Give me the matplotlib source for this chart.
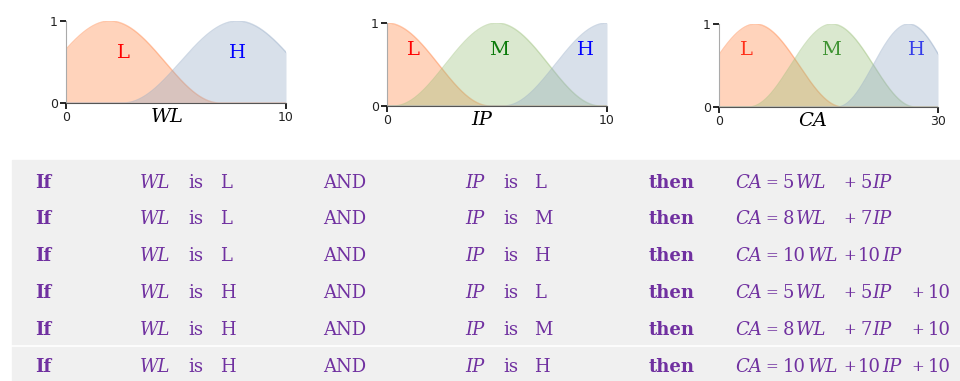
import numpy as np
from matplotlib import pyplot as plt
from matplotlib.patches import Rectangle

# membership functions: (term, peak, half width) for each variable
wl_range = (0, 10)
wl_terms = ["L", "H"]
wl_peaks = [2.0, 7.8]
wl_widths = [5.0, 5.2]

ip_range = (0, 10)
ip_terms = ["L", "M", "H"]
ip_peaks = [0.0, 5.0, 10.0]
ip_widths = [4.7, 4.7, 4.7]

ca_range = (0, 30)
ca_terms = ["L", "M", "H"]
ca_peaks = [5.0, 15.5, 26.0]
ca_widths = [12.0, 11.4, 9.8]

# rule base
rule_wl = ["L", "L", "L", "H", "H", "H"]
rule_ip = ["L", "M", "H", "L", "M", "H"]
coef_wl = [5, 8, 10, 5, 8, 10]
coef_ip = [5, 7, 10, 5, 7, 10]
offset = [0, 0, 0, 10, 10, 10]

FILL = {"L": "#ff8545", "M": "#9bc07a", "H": "#93a9c5"}
TEXT = {"L": "red", "M": "#0a7a0a", "H": "blue"}
PURPLE = "#7030a0"
W, H = 960, 381


def bump(x, c, hw):
    d = np.clip((x - c) / hw, -1, 1)
    return 0.5 * (1 + np.cos(np.pi * d))


def px_axes(fig, left, right, top, bottom):
    return fig.add_axes([left / W, 1 - bottom / H, (right - left) / W,
                         (bottom - top) / H])


def mf_plot(ax, rng, terms, peaks, widths, name, label_pos, label_x,
            text_under=False):
    x = np.linspace(rng[0], rng[1], 500)
    for t, c, hw, (lx, ly) in zip(terms, peaks, widths, label_pos):
        y = bump(x, c, hw)
        ax.fill_between(x, 0, y, color=FILL[t], alpha=0.36, lw=0, zorder=2)
        ax.plot(x, y, color=FILL[t], alpha=0.45, lw=1, zorder=2)
        ax.text(lx, ly, t, color=TEXT[t], fontsize=14, family="DejaVu Serif",
                ha="center", va="center", zorder=1 if text_under else 3)
    ax.set_xlim(*rng)
    ax.set_ylim(0, 1)
    ax.patch.set_visible(False)
    ax.spines[["top", "right"]].set_visible(False)
    ax.spines["left"].set_color("#aaaaaa")
    ax.spines["bottom"].set_color("#555555")
    ax.set_xticks(rng)
    ax.set_yticks([0, 1])
    ax.tick_params(labelsize=9, length=4, width=1.2, pad=2,
                   labelcolor="#222222")
    ax.annotate(name, xy=(label_x, 0), xycoords="axes fraction",
                xytext=(0, -5), textcoords="offset pixels", ha="center",
                va="top", fontsize=14, style="italic", family="DejaVu Serif")


fig = plt.figure(figsize=(W / 100, H / 100), dpi=100)

ax1 = px_axes(fig, 66, 286, 21, 103)
mf_plot(ax1, wl_range, wl_terms, wl_peaks, wl_widths, "WL",
        [(2.6, 0.61), (7.8, 0.61)], 0.46)
ax2 = px_axes(fig, 387, 607, 23, 106)
mf_plot(ax2, ip_range, ip_terms, ip_peaks, ip_widths, "IP",
        [(1.2, 0.67), (5.1, 0.67), (9.0, 0.67)], 0.43)
ax3 = px_axes(fig, 719, 938, 24, 107)
mf_plot(ax3, ca_range, ca_terms, ca_peaks, ca_widths, "CA",
        [(3.7, 0.69), (15.3, 0.69), (27.1, 0.69)], 0.43, text_under=True)

# rule table
fig.patches.append(Rectangle((12 / W, 0), 1 - 12 / W, 1 - 160 / H,
                             transform=fig.transFigure, color="#f0f0f0",
                             zorder=0))
fig.add_artist(plt.Line2D([12 / W, 1], [1 - 346 / H] * 2, color="white",
                          lw=1.2, transform=fig.transFigure))


def put(x, y, s, **kw):
    style = dict(color=PURPLE, fontsize=13, family="DejaVu Serif",
                 va="baseline", ha="left")
    style.update(kw)
    fig.text(x / W, 1 - y / H, s, **style)


def op(x, y, s):
    # slightly smaller operators so the terms keep their spacing
    put(x, y - 1, s, fontsize=11)


baselines = [188, 224, 261, 298, 335, 372]
for i, yb in enumerate(baselines):
    put(35, yb, "If", weight="bold")
    put(140, yb, "WL", style="italic")
    put(188, yb, "is")
    put(220, yb, rule_wl[i])
    put(323, yb, "AND")
    put(465, yb, "IP", style="italic")
    put(503, yb, "is")
    put(534, yb, rule_ip[i])
    put(649, yb, "then", weight="bold")
    put(735, yb, "CA", style="italic")
    op(765, yb, "=")
    put(783, yb, str(coef_wl[i]))
    put(796 if coef_wl[i] < 10 else 808, yb, "WL", style="italic")
    op(843, yb, "+")
    put(861 if coef_ip[i] < 10 else 858, yb, str(coef_ip[i]))
    put(872 if coef_ip[i] < 10 else 882, yb, "IP", style="italic")
    if offset[i]:
        op(911, yb, "+")
        put(928, yb, str(offset[i]))

fig.savefig("out.png", dpi=100)
